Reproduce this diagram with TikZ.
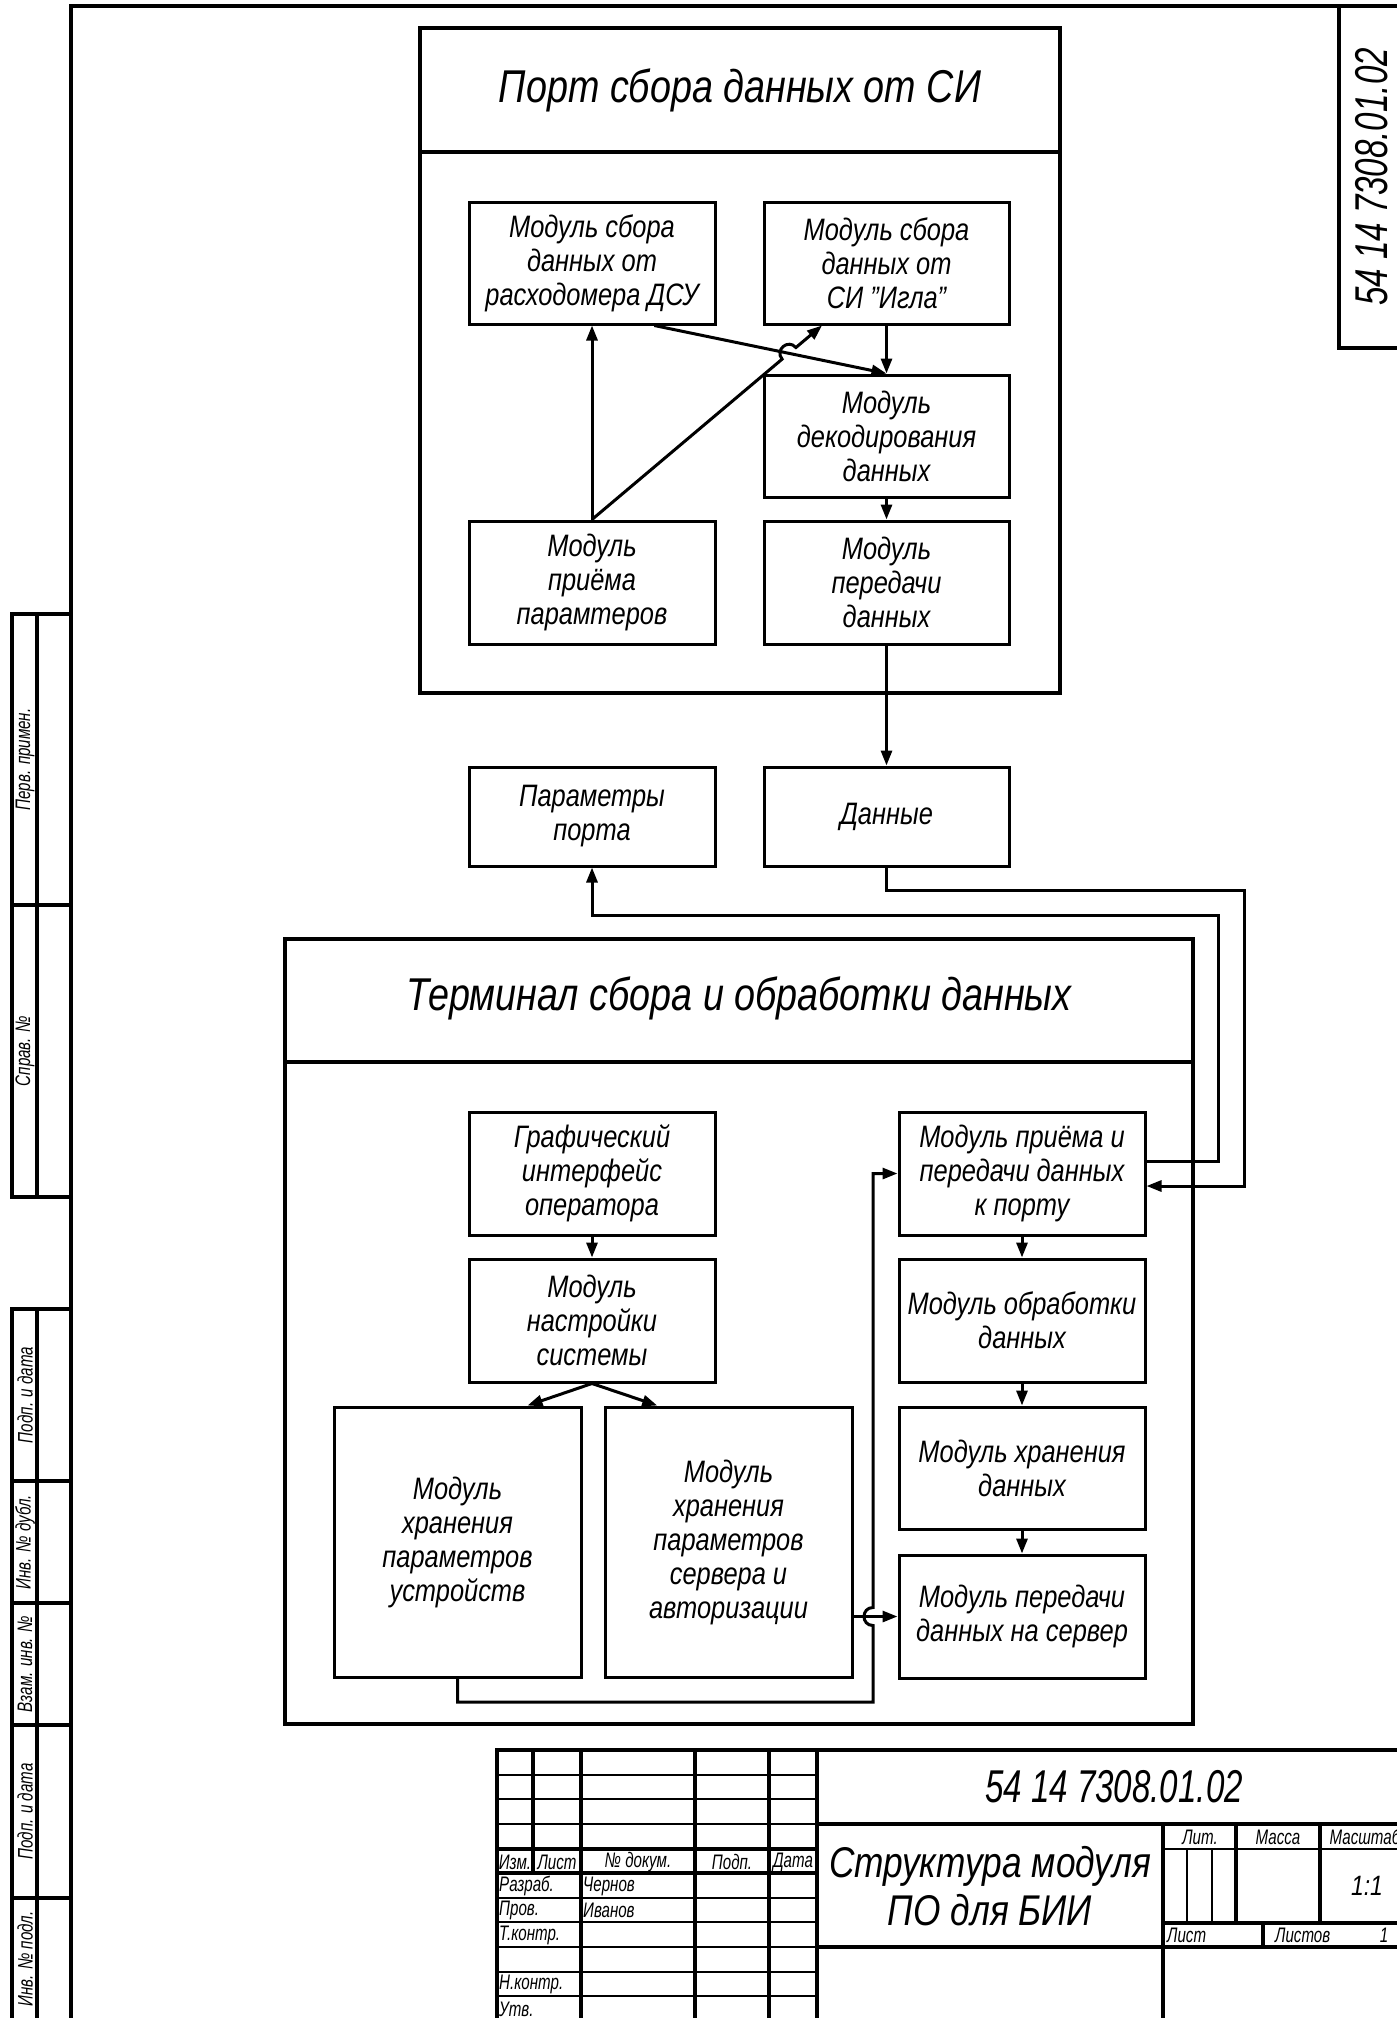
\documentclass[tikz,border=0pt]{standalone}
\usepackage{fontspec}
\setmainfont{Liberation Sans}[FakeStretch=0.82]
\newfontfamily\uzkfont{Liberation Sans}[FakeStretch=0.72]
\usetikzlibrary{arrows.meta}
\usetikzlibrary{calc}

\tikzset{
  blok/.style={draw, line width=3pt, align=center, inner sep=0pt,
    font=\fontsize{31}{34}\selectfont\itshape},
  strelka/.style={line width=3pt, -{Triangle[length=15pt,width=11pt]}},
  tolst/.style={line width=3.5pt},
  tonk/.style={line width=1.2pt},
  zagl/.style={font=\fontsize{46}{50}\selectfont\itshape, inner sep=0pt},
  kod/.style={font=\uzkfont\fontsize{46}{50}\selectfont\itshape, inner sep=0pt},
  mal/.style={font=\uzkfont\fontsize{21}{23}\selectfont\itshape, inner sep=0pt},
}

\begin{document}
\begin{tikzpicture}[x=1pt, y=-1pt]
    \useasboundingbox (0,0) rectangle (1397,2018);
    \fill[white] (0,0) rectangle (1397,2018);

    \draw[tolst] (71,2030) -- (71,6) -- (1410,6);
    \draw[tolst] (1339,6) |- (1410,348);
    \node[kod, rotate=90] (shifrV) at (1372,177) {54 14 7308.01.02};

    \draw[tolst] (12,614) rectangle (71,1197);
    \draw[tolst] (37,614) -- (37,1197);
    \draw[tolst] (12,905) -- (71,905);
    \draw[tolst] (12,1309) rectangle (71,2030);
    \draw[tolst] (37,1309) -- (37,2030);
    \foreach \y in {1481,1603,1725,1898}
        \draw[tolst] (12,\y) -- (71,\y);
    \foreach \y/\t [count=\i] in {759.5/Перв. примен., 1051/Справ. №, 1395/Подп. и дата,
        1542/Инв. № дубл., 1664/Взам. инв. №, 1811.5/Подп. и дата, 1959/Инв. № подл.}
        \node[mal, rotate=90] (graf\i) at (25,\y) {\t};

    \draw[tolst] (420,28) rectangle (1060,693);
    \draw[tolst] (420,152) -- (1060,152);
    \node[zagl] (port) at (740,90) {Порт сбора данных от СИ};

    \node[blok, minimum width=246, minimum height=122] (dsu) at (592,263) {Модуль сбора\\данных от\\расходомера ДСУ};
    \node[blok, minimum width=245, minimum height=122] (igla) at (886.5,263) {Модуль сбора\\данных от\\СИ \char34 Игла\char34};
    \node[blok, minimum width=245, minimum height=122] (dekod) at (886.5,436) {Модуль\\декодирования\\данных};
    \node[blok, minimum width=246, minimum height=123] (priem) at (592,582.5) {Модуль\\приёма\\парамтеров};
    \node[blok, minimum width=245, minimum height=123] (peredacha) at (886.5,582.5) {Модуль\\передачи\\данных};
    \node[blok, minimum width=246, minimum height=99] (param) at (592,816.5) {Параметры\\порта};
    \node[blok, minimum width=245, minimum height=99] (dannye) at (886.5,816.5) {Данные};

    \coordinate (iglaVh) at ($(igla.south west)!0.24!(igla.south east)$);
    \coordinate (dsuVyh) at ($(dsu.south west)!0.75!(dsu.south east)$);
    \coordinate (kr) at (intersection of priem.north--iglaVh and dsuVyh--dekod.north);
    \draw[strelka] (priem.north) -- (dsu.south);
    \draw[strelka] (dsuVyh) -- (dekod.north);
    \draw[strelka] (priem.north) -- ($(kr)!9pt!(priem.north)$) to[bend left=90, looseness=1.7] ($(kr)!9pt!(iglaVh)$) -- (iglaVh);
    \draw[strelka] (igla.south) -- (dekod.north);
    \draw[strelka] (dekod.south) -- (peredacha.north);
    \draw[strelka] (peredacha.south) -- (dannye.north);

    \draw[tolst] (285,939) rectangle (1193,1724);
    \draw[tolst] (285,1062) -- (1193,1062);
    \node[zagl] (terminal) at (739,998) {Терминал сбора и обработки данных};

    \node[blok, minimum width=246, minimum height=123] (gui) at (592,1173.5) {Графический\\интерфейс\\оператора};
    \node[blok, minimum width=246, minimum height=123] (nastr) at (592,1320.5) {Модуль\\настройки\\системы};
    \node[blok, minimum width=247, minimum height=270] (hrUstr) at (457.5,1542) {Модуль\\хранения\\параметров\\устройств};
    \node[blok, minimum width=247, minimum height=270] (hrServ) at (728.5,1542) {Модуль\\хранения\\параметров\\сервера и\\авторизации};
    \node[blok, minimum width=246, minimum height=123] (priemPer) at (1022,1173.5) {Модуль приёма и\\передачи данных\\к порту};
    \node[blok, minimum width=246, minimum height=123] (obrab) at (1022,1320.5) {Модуль обработки\\данных};
    \node[blok, minimum width=246, minimum height=122] (hranen) at (1022,1468) {Модуль хранения\\данных};
    \node[blok, minimum width=246, minimum height=123] (server) at (1022,1616.5) {Модуль передачи\\данных на сервер};

    \draw[strelka] (gui.south) -- (nastr.north);
    \draw[strelka] (nastr.south) -- ($(hrUstr.north west)!0.78!(hrUstr.north east)$);
    \draw[strelka] (nastr.south) -- ($(hrServ.north west)!0.215!(hrServ.north east)$);
    \draw[strelka] (priemPer.south) -- (obrab.north);
    \draw[strelka] (obrab.south) -- (hranen.north);
    \draw[strelka] (hranen.south) -- (server.north);
    \draw[strelka] (hrServ.east |- server.west) -- (server.west);

    \coordinate (petlya) at (873,1702);
    \coordinate (hop) at (petlya |- server.west);
    \draw[strelka] (hrUstr.south) |- (petlya) -- ($(hop)+(0,9)$)
        .. controls ($(hop)+(-12,9)$) and ($(hop)+(-12,-9)$) .. ($(hop)+(0,-9)$) |- (priemPer.west);

    \coordinate (pr1) at (1244,890);
    \coordinate (pr2) at (1218,915);
    \coordinate (vh) at ($(priemPer.east)+(0,12.5)$);
    \coordinate (vyh) at ($(priemPer.east)+(0,-12.5)$);
    \draw[strelka] (dannye.south) |- (pr1) |- (vh);
    \draw[strelka] (vyh) -| (pr2) -| (param.south);

    \draw[tolst] (497,2030) -- (497,1750) -- (1410,1750);
    \foreach \x in {581,695,769,817}
        \draw[tolst] (\x,1750) -- (\x,2030);
    \draw[tolst] (533,1750) -- (533,1873);
    \foreach \y in {1775,1799,1824,1898,1922,1947,1972,1996}
        \draw[tonk] (497,\y) -- (817,\y);
    \draw[tolst] (497,1849) -- (817,1849);
    \draw[tolst] (497,1873) -- (817,1873);
    \draw[tolst] (817,1824) -- (1410,1824);
    \draw[tolst] (817,1947) -- (1410,1947);
    \draw[tolst] (1163,1824) -- (1163,2030);
    \draw[tonk] (1163,1849) -- (1410,1849);
    \draw[tolst] (1163,1923) -- (1410,1923);
    \draw[tolst] (1236,1824) -- (1236,1923);
    \draw[tolst] (1320,1824) -- (1320,1923);
    \draw[tonk] (1187,1849) -- (1187,1923);
    \draw[tonk] (1212,1849) -- (1212,1923);
    \draw[tolst] (1263,1923) -- (1263,1947);

    \node[mal] (izm) at (515,1862) {Изм.};
    \node[mal] (list) at (557,1862) {Лист};
    \node[mal] (dokum) at (638,1862) {№ докум.};
    \node[mal] (podp) at (732,1862) {Подп.};
    \node[mal] (data) at (793,1862) {Дата};
    \node[mal, anchor=west] (razrab) at (499,1886) {Разраб.};
    \node[mal, anchor=west] (chernov) at (583,1886) {Чернов};
    \node[mal, anchor=west] (prov) at (499,1910.5) {Пров.};
    \node[mal, anchor=west] (ivanov) at (583,1910.5) {Иванов};
    \node[mal, anchor=west] (tkontr) at (499,1935) {Т.контр.};
    \node[mal, anchor=west] (nkontr) at (499,1984.5) {Н.контр.};
    \node[mal, anchor=west] (utv) at (499,2009) {Утв.};

    \node[kod] (oboznach) at (1114,1787) {54 14 7308.01.02};
    \node[zagl, align=center, font=\fontsize{43}{48}\selectfont\itshape] (nazv) at (990,1886) {Структура модуля\\ПО для БИИ};
    \node[mal] (lit) at (1200,1837) {Лит.};
    \node[mal] (massa) at (1278,1837) {Масса};
    \node[mal] (masshtab) at (1365,1837) {Масштаб};
    \node[mal, font=\fontsize{28}{30}\selectfont\itshape] (mash) at (1367,1886) {1:1};
    \node[mal, anchor=west] (listL) at (1167,1935.5) {Лист};
    \node[mal, anchor=west] (listov) at (1275,1935.5) {Листов};
    \node[mal] (odin) at (1384,1935.5) {1};
\end{tikzpicture}
\end{document}
